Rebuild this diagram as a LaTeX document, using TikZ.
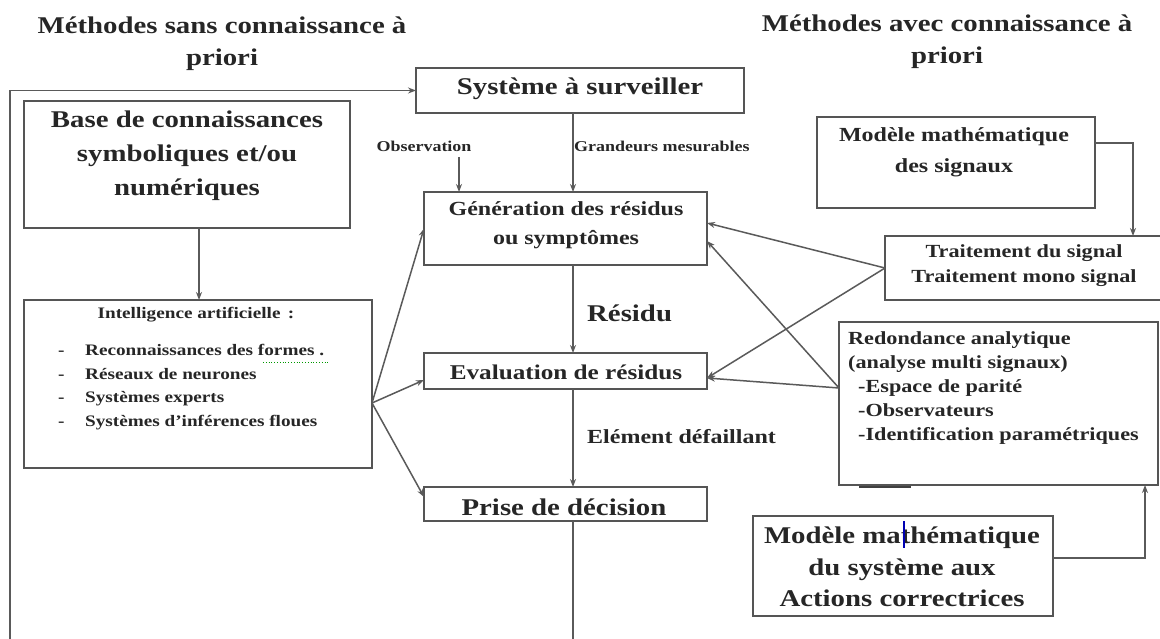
\documentclass[tikz,border=0pt]{standalone}
\usepackage{fontspec}
\setmainfont{Liberation Serif}[FakeStretch=1.2]
\usetikzlibrary{arrows.meta}
\definecolor{boxc}{HTML}{555555}
\definecolor{linec}{HTML}{5A5A5A}
\definecolor{txtc}{HTML}{262626}
\newcommand{\fz}[2]{\fontsize{#1}{#2}\selectfont}
\tikzset{
  box/.style={draw=boxc, line width=1.7pt, anchor=north west, inner sep=0pt, outer sep=0pt},
  txt/.style={text=txtc, inner sep=0pt, align=center},
  arr/.style={draw=linec, line width=1.5pt, -{Stealth[length=8pt,width=6pt]}},
  ln/.style={draw=linec, line width=1.5pt},
}
\begin{document}
\begin{tikzpicture}[x=1pt,y=-1pt]
\useasboundingbox (0,0) rectangle (1160,639);
\fill[white] (0,0) rectangle (1160,639);

% titles
\node[txt, font=\bfseries\fz{24}{32}] (tl) at (222,44) {Méthodes sans connaissance à\\priori};
\node[txt, font=\bfseries\fz{24}{32}] (tr) at (947,42) {Méthodes avec connaissance à\\priori};

% boxes
\node[box, minimum width=328pt, minimum height=45pt] (sys) at (416,68) {};
\node[txt, font=\bfseries\fz{24}{30}] (sysT) at (580,89) {Système à surveiller};

\node[box, minimum width=326pt, minimum height=127pt] (base) at (24,101) {};
\node[txt, font=\bfseries\fz{24}{34}] (baseT) at (187,156) {Base de connaissances\\symboliques et/ou\\numériques};

\node[box, minimum width=348pt, minimum height=168pt] (ia) at (24,300) {};
\node[txt, font=\bfseries\fz{16}{20}] (iaT) at (196,315) {Intelligence artificielle \,:};
\node[txt, align=left, anchor=west, font=\bfseries\fz{16}{23.5}] (iaL) at (58,387)
  {\makebox[27pt][l]{-}Reconnaissances des formes .\\
   \makebox[27pt][l]{-}Réseaux de neurones\\
   \makebox[27pt][l]{-}Systèmes experts\\
   \makebox[27pt][l]{-}Systèmes d'inférences floues};
\draw[green!60!black, line width=0.8pt, dotted] (263,362) -- (330,362);

\node[box, minimum width=283pt, minimum height=73pt] (gen) at (424,192) {};
\node[txt, font=\bfseries\fz{20}{29}] (genT) at (566,225) {Génération des résidus\\ou symptômes};

\node[box, minimum width=283pt, minimum height=36pt] (eval) at (424,353) {};
\node[txt, font=\bfseries\fz{21}{26}] (evalT) at (566,372) {Evaluation de résidus};

\node[txt, font=\bfseries\fz{24}{30}] (priseT) at (564,507) {Prise de décision};
\node[box, minimum width=283pt, minimum height=34pt] (prise) at (424,487) {};

\node[box, minimum width=278pt, minimum height=91pt] (msig) at (817,117) {};
\node[txt, font=\bfseries\fz{20}{31}] (msigT) at (954,152) {Modèle mathématique\\des signaux};

\node[box, minimum width=280pt, minimum height=64pt] (trait) at (885,236) {};
\node[txt, font=\bfseries\fz{18.5}{25}] (traitT) at (1024,266) {Traitement du signal\\Traitement mono signal};

\node[box, minimum width=319pt, minimum height=163pt] (red) at (839,322) {};
\node[txt, align=left, anchor=west, font=\bfseries\fz{18.5}{24}] (redT) at (848,388)
  {Redondance analytique\\(analyse multi signaux)\\
   \hspace*{10pt}-Espace de parité\\
   \hspace*{10pt}-Observateurs\\
   \hspace*{10pt}-Identification paramétriques};
\draw[black!75, line width=2.5pt] (859,487) -- (911,487);

\node[box, minimum width=300pt, minimum height=100pt] (msys) at (753,516) {};
\node[txt, font=\bfseries\fz{24}{31.5}] (msysT) at (902,567) {Modèle mathématique\\du système aux\\Actions correctrices};
\draw[blue!70!black, line width=1.4pt] (904,521) -- (904,548);

% labels
\node[txt, font=\bfseries\fz{15}{18}] (obs) at (424,146) {Observation};
\node[txt, anchor=west, font=\bfseries\fz{15}{18}] (grand) at (574,146) {Grandeurs mesurables};
\node[txt, anchor=west, font=\bfseries\fz{24}{28}] (res) at (587,313) {Résidu};
\node[txt, anchor=west, font=\bfseries\fz{20}{24}] (elem) at (587,437) {Elément défaillant};

% helper coordinates
\coordinate (vx) at (573,0);
\coordinate (ox) at (459,0);
\coordinate (tx) at (1133,0);
\coordinate (rx) at (1145,0);
\coordinate (fbot) at (10,639);
\coordinate (pbot) at (573,639);

% connectors
\draw[arr] (fbot) |- (sys.west);
\draw[arr] (sys.south -| vx) -- (gen.north -| vx);
\draw[arr] (obs.south -| ox) ++(0,6) -- (gen.north -| ox);
\draw[arr] (base.south -| 199,0) -- (ia.north -| 199,0);
\draw[arr] (gen.south -| vx) -- (eval.north -| vx);
\draw[arr] (eval.south -| vx) -- (prise.north -| vx);
\draw[ln] (prise.south -| vx) -- (pbot);

\draw[arr] ([yshift=-19pt]ia.east) -- (gen.west);
\draw[arr] ([yshift=-19pt]ia.east) -- ([yshift=-9pt]eval.west);
\draw[arr] ([yshift=-19pt]ia.east) -- ([yshift=7pt]prise.west);

\draw[arr] (trait.west) -- ([yshift=5.5pt]gen.east);
\draw[arr] (trait.west) -- ([yshift=-7pt]eval.east);
\draw[arr] ([yshift=15.5pt]red.west) -- ([yshift=-12.5pt]gen.east);
\draw[arr] ([yshift=15.5pt]red.west) -- ([yshift=-7pt]eval.east);

\draw[arr] ([yshift=19.5pt]msig.east) -| (trait.north -| tx);
\draw[arr] ([yshift=8pt]msys.east) -| (red.south -| rx);
\end{tikzpicture}
\end{document}
